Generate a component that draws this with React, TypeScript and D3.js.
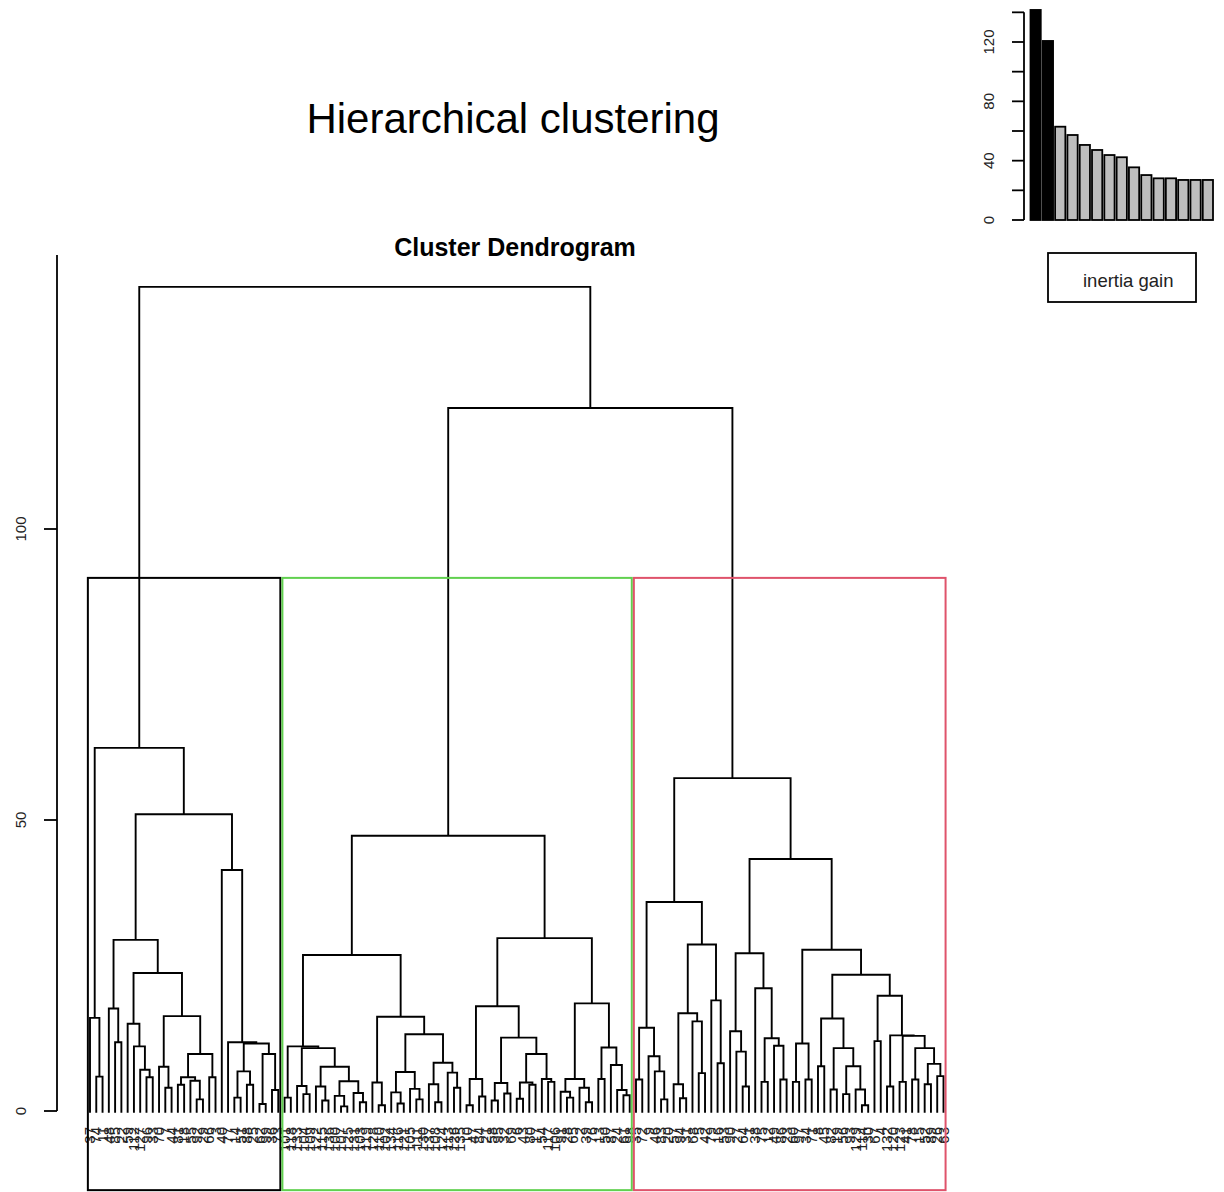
import React from "react";
import * as d3 from "d3";

type Tree = number | Tree[];

// Dendrogram: node = [mergeHeight, left, right]; leaf = individual label
const cluster1Tree: Tree = [62.4,
  [16.0, 37, [5.9, 74, 11]],
  [51.0,
    [29.4,
      [17.6, 48, [11.8, 85, 22]],
      [23.7,
        [15.0, 59, [11.1, 112, [7.1, 127, [5.8, 96, 33]]]],
        [16.3, [7.6, 70, [4.0, 7, 44]], [9.8, [5.8, [4.5, 81, 18], [5.2, 55, [2.0, 92, 29]]], [5.8, 66, 3]]]]],
    [41.4, 40,
      [11.8, 77, [11.6, [6.8, [2.3, 14, 51], [4.5, 88, 25]], [9.8, [1.2, 62, 99], [3.6, 36, 73]]]]]]];

const cluster2Tree: Tree = [47.3,
  [26.8,
    [11.1, [2.3, 101, 118],
      [10.8, [4.3, 133, [2.9, 104, 109]],
        [7.6, [4.2, 122, [1.8, 115, 136]], [5.1, [2.6, 100, [0.8, 107, 125]], [3.1, 131, [1.5, 103, 119]]]]]],
    [16.2, [4.9, 128, [1.0, 110, 102]],
      [13.2, [6.7, [3.2, 134, [1.3, 116, 121]], [3.8, 105, [2.0, 111, 130]]],
        [8.3, [4.6, 137, [1.5, 108, 124]], [6.6, 113, [4.0, 126, 135]]]]]],
  [29.7,
    [18.0, [5.5, [1.0, 10, 47], [2.5, 84, 21]],
      [12.6, [4.8, [1.8, 58, 95], [3.0, 32, 69]],
        [9.8, [4.9, [2.1, 6, 43], [4.5, 80, 17]], [5.5, 54, [5.0, 117, 106]]]]],
    [18.5, [5.5, [3.3, 91, [2.3, 28, 65]], [4.0, 2, [1.5, 39, 76]]],
      [10.9, [5.5, 13, 50], [7.9, 87, [3.6, 24, [2.7, 61, 98]]]]]]];

const cluster3Tree: Tree = [57.2,
  [35.9,
    [14.3, [5.4, 35, 72], [9.4, 9, [6.8, 46, [2.0, 83, 20]]]],
    [28.6, [16.8, [4.6, 57, [2.2, 94, 31]], [15.4, 68, [6.5, 5, 42]]], [19.0, 79, [8.2, 16, 53]]]],
  [43.3,
    [27.1, [13.7, 90, [10.2, 27, [4.2, 64, 1]]],
      [21.1, 38, [12.5, [5.0, 75, 12], [11.2, 49, [5.4, 86, 23]]]]],
    [27.7, [11.6, [5.0, 60, 97], [5.4, 34, 71]],
      [23.4,
        [15.9, [7.7, 8, 45], [10.8, [3.7, 82, 19], [7.7, [2.9, 56, 93], [3.7, 129, [1.0, 114, 30]]]]],
        [19.8, [12.0, 67, 4],
          [13.0, [4.2, 132, 120], [12.9, [5.0, 123, 41], [10.8, [5.4, 78, 15], [8.1, [4.6, 52, 89], [6.0, 26, 63]]]]]]]]]];

const upperMergeHeights = [141.6, 120.8];
const inertiaGain = [141.6, 120.7, 62.9, 57.3, 50.6, 47.2, 43.8, 42.3, 35.5, 30.3, 28.1, 28.1, 27.0, 27.0, 27.0];
const nbClusters = 3;
const heightTicks = [0, 50, 100];
const gainTicks = [0, 20, 40, 60, 80, 100, 120, 140];
const gainTickLabels = [0, 40, 80, 120];
const clusterColors = ["#000000", "#61D04F", "#DF536B"];
const mainTitle = "Hierarchical clustering";
const subTitle = "Cluster Dendrogram";
const legendLabel = "inertia gain";

const FONT = "'Liberation Sans', Arial, sans-serif";

function countLeaves(t: Tree): number {
  return typeof t === "number" ? 1 : countLeaves(t[1]) + countLeaves(t[2]);
}
function collectHeights(t: Tree, out: number[]) {
  if (typeof t === "number") return;
  out.push(t[0] as number);
  collectHeights(t[1], out);
  collectHeights(t[2], out);
}

export default function App() {
  const fullTree: Tree = [upperMergeHeights[0], cluster1Tree, [upperMergeHeights[1], cluster2Tree, cluster3Tree]];
  const n = countLeaves(fullTree);

  const x = d3.scaleLinear().domain([1, n]).range([90, 943.5]);
  const y = d3.scaleLinear().domain([0, 100]).range([1111, 529]);
  const leafHang = -0.3;

  const paths: string[] = [];
  const leaves: { x: number; label: number }[] = [];
  let counter = 0;
  function layout(t: Tree): { px: number; h: number } {
    if (typeof t === "number") {
      counter += 1;
      const px = x(counter);
      leaves.push({ x: px, label: t });
      return { px, h: leafHang };
    }
    const h = t[0] as number;
    const l = layout(t[1]);
    const r = layout(t[2]);
    paths.push(`M${l.px},${y(l.h)}V${y(h)}H${r.px}V${y(r.h)}`);
    return { px: (l.px + r.px) / 2, h };
  }
  layout(fullTree);

  const heights: number[] = [];
  collectHeights(fullTree, heights);
  heights.sort((a, b) => b - a);
  const rectTop = (heights[nbClusters - 2] + heights[nbClusters - 1]) / 2;
  const rectBottom = -13.6;
  const sizes = [cluster1Tree, cluster2Tree, cluster3Tree].map(countLeaves);
  const rects: { x0: number; x1: number; color: string }[] = [];
  let m = 0;
  sizes.forEach((s, k) => {
    rects.push({ x0: x(m + 0.66), x1: x(m + s + 0.33), color: clusterColors[k] });
    m += s;
  });

  // inset barplot
  const xg = d3.scaleLinear().domain([0.2, 18]).range([1030.5, 1213]);
  const yg = d3.scaleLinear().domain([0, 120]).range([220, 42]);

  return (
    <svg width={1224} height={1192} style={{ position: "absolute", left: 0, top: 0, background: "#fff" }} fontFamily={FONT}>
      <rect x={0} y={0} width={1224} height={1192} fill="#fff" />
      <text x={513} y={133} fontSize={42} textAnchor="middle" fill="#000">{mainTitle}</text>
      <text x={515} y={256} fontSize={25} fontWeight="bold" textAnchor="middle" fill="#000">{subTitle}</text>

      {/* y axis */}
      <line x1={57} x2={57} y1={y(0)} y2={255} stroke="#000" strokeWidth={1.8} />
      {heightTicks.map((t) => (
        <g key={t}>
          <line x1={44} x2={57} y1={y(t)} y2={y(t)} stroke="#000" strokeWidth={1.8} />
          <text transform={`translate(26,${y(t)}) rotate(-90)`} fontSize={15} textAnchor="middle" fill="#222">{t}</text>
        </g>
      ))}

      {/* dendrogram */}
      <g fill="none" stroke="#000" strokeWidth={1.9}>
        {paths.map((d, i) => <path key={i} d={d} />)}
      </g>

      {/* leaf labels */}
      <g fontSize={15} fill="#222">
        {leaves.map((lf, i) => (
          <text key={i} transform={`translate(${lf.x + 5.2},1127) rotate(-90)`} textAnchor="end">{lf.label}</text>
        ))}
      </g>

      {/* cluster rectangles */}
      {rects.map((r, k) => (
        <rect key={k} x={r.x0} y={y(rectTop)} width={r.x1 - r.x0} height={y(rectBottom) - y(rectTop)} fill="none" stroke={r.color} strokeWidth={2} />
      ))}

      {/* inertia gain inset */}
      <line x1={1024} x2={1024} y1={yg(0)} y2={yg(140)} stroke="#000" strokeWidth={1.8} />
      {gainTicks.map((t) => (
        <line key={t} x1={1012} x2={1024} y1={yg(t)} y2={yg(t)} stroke="#000" strokeWidth={1.8} />
      ))}
      {gainTickLabels.map((t) => (
        <text key={t} transform={`translate(994,${yg(t)}) rotate(-90)`} fontSize={15} textAnchor="middle" fill="#222">{t}</text>
      ))}
      {inertiaGain.map((g, i) => {
        const left = 0.2 + i * 1.2;
        return (
          <rect key={i} x={xg(left)} y={yg(g)} width={xg(left + 1) - xg(left)} height={yg(0) - yg(g)}
            fill={i < nbClusters - 1 ? "#000" : "#BEBEBE"} stroke="#000" strokeWidth={1.8} />
        );
      })}
      <rect x={1048} y={253} width={148} height={49} fill="none" stroke="#000" strokeWidth={1.8} />
      <text x={1083} y={287} fontSize={18.5} fill="#222">{legendLabel}</text>
    </svg>
  );
}
